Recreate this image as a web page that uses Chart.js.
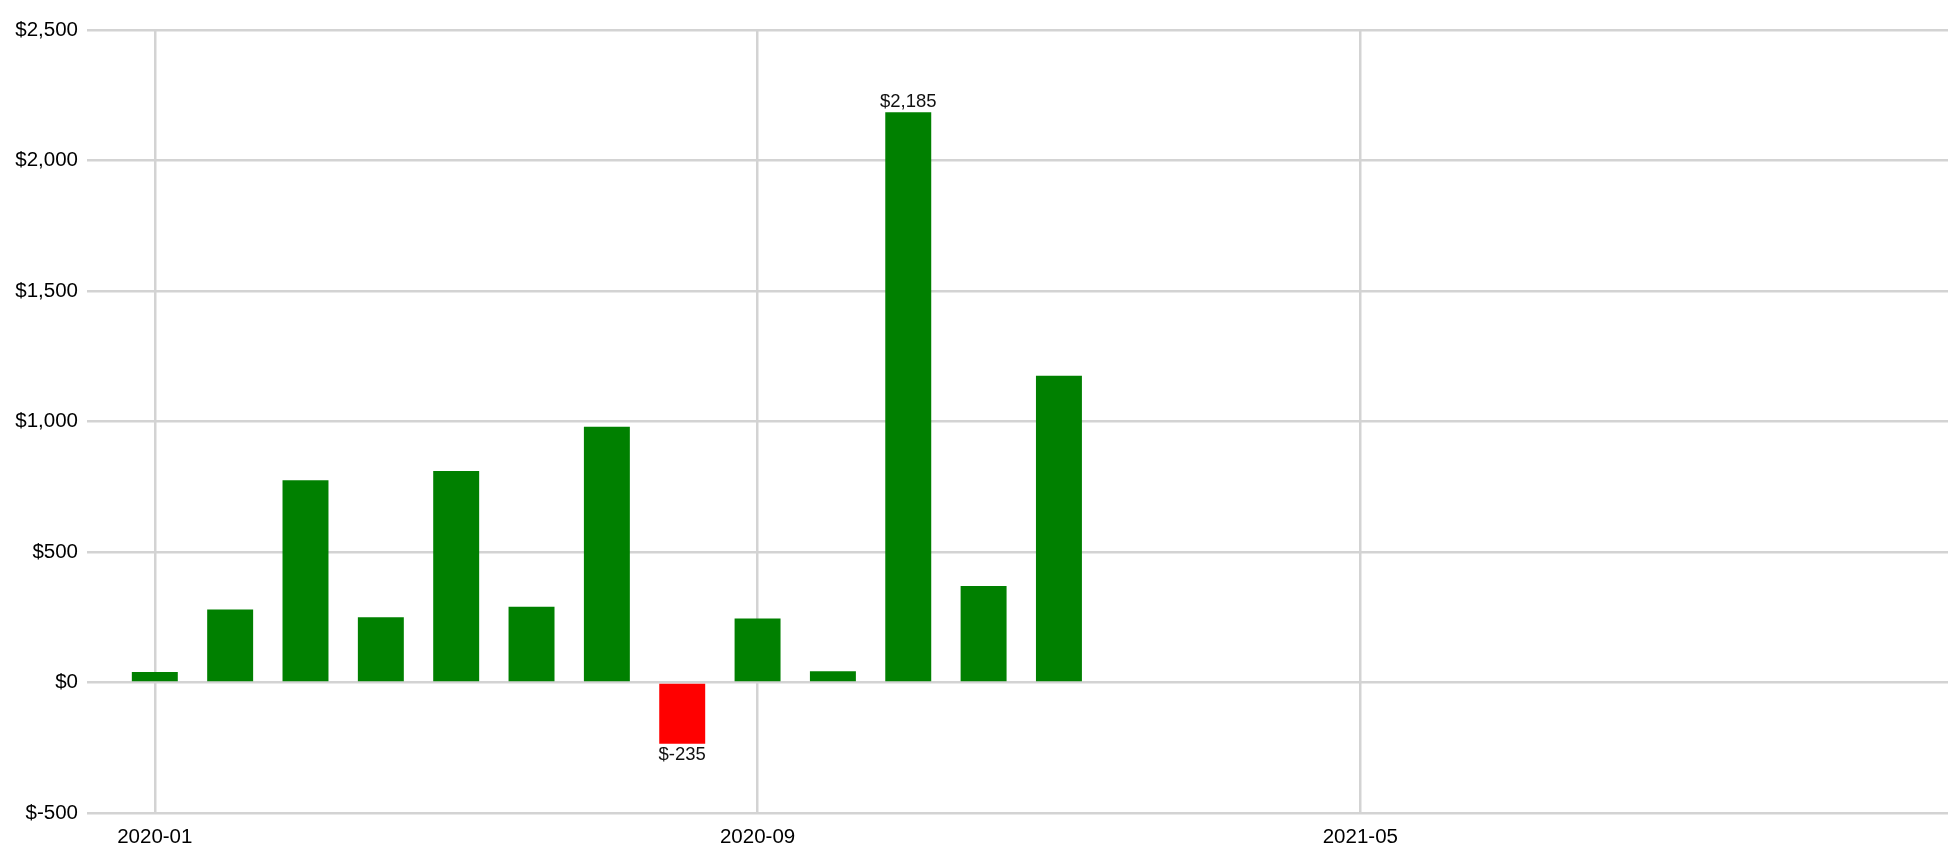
<!DOCTYPE html>
<html>
<head>
<meta charset="utf-8">
<script src="https://cdn.jsdelivr.net/npm/chart.js@4/dist/chart.umd.min.js"></script>
<style>
  html, body { margin: 0; padding: 0; background: #ffffff; }
  #wrap { width: 1954px; height: 857px; }
</style>
</head>
<body>
<div id="wrap"><canvas id="c" width="1954" height="857"></canvas></div>
<script>
// Months shown on the time axis (the axis runs past the last bar)
const axisMonths = [
  '2020-01','2020-02','2020-03','2020-04','2020-05','2020-06',
  '2020-07','2020-08','2020-09','2020-10','2020-11','2020-12',
  '2021-01','2021-02','2021-03','2021-04','2021-05','2021-06',
  '2021-07','2021-08','2021-09','2021-10','2021-11','2021-12'
];
// Months that have a bar
const months = [
  '2020-01','2020-02','2020-03','2020-04','2020-05','2020-06',
  '2020-07','2020-08','2020-09','2020-10','2020-11','2020-12','2021-01'
];
// Monthly profit / loss in dollars
const values = [40, 280, 775, 250, 810, 290, 980, -235, 245, 43, 2185, 370, 1175];
// Y-axis tick values
const yTicks = [-500, 0, 500, 1000, 1500, 2000, 2500];

const fmt = v => '$' + Number(v).toLocaleString('en-US');
const FONT = '"Liberation Sans", Arial, Helvetica, sans-serif';

const points = months.map((m, i) => ({ x: axisMonths.indexOf(m), y: values[i] }));

const extremeLabels = {
  id: 'extremeLabels',
  afterDatasetsDraw(chart) {
    const ctx = chart.ctx;
    const meta = chart.getDatasetMeta(0);
    const maxV = Math.max(...values);
    const minV = Math.min(...values);
    ctx.save();
    ctx.font = '18.5px ' + FONT;
    ctx.fillStyle = '#111111';
    ctx.textAlign = 'center';
    values.forEach((v, i) => {
      if (v !== maxV && v !== minV) return;
      const el = meta.data[i];
      if (v >= 0) {
        ctx.textBaseline = 'alphabetic';
        ctx.fillText(fmt(v), el.x, el.y - 5);
      } else {
        ctx.textBaseline = 'top';
        ctx.fillText(fmt(v), el.x, el.y + 2);
      }
    });
    ctx.restore();
  }
};

new Chart(document.getElementById('c'), {
  type: 'bar',
  data: {
    datasets: [{
      data: points,
      backgroundColor: values.map(v => v < 0 ? '#ff0000' : '#008000'),
      borderWidth: 0,
      categoryPercentage: 1,
      barPercentage: 0.61
    }]
  },
  options: {
    responsive: false,
    devicePixelRatio: 1,
    animation: false,
    layout: { padding: { left: 0, right: 6, top: 30, bottom: 0 } },
    plugins: { legend: { display: false }, tooltip: { enabled: false } },
    scales: {
      x: {
        type: 'linear',
        offset: false,
        min: -0.9,
        max: 23.8,
        grid: { color: '#d3d3d3', lineWidth: 2.5, drawTicks: false, offset: false },
        border: { display: false },
        afterFit: s => { s.height = 44; },
        ticks: {
          stepSize: 8,
          includeBounds: false,
          autoSkip: false,
          maxRotation: 0,
          padding: 12,
          color: '#000',
          font: { family: FONT, size: 20.5 },
          callback: v => axisMonths[v] !== undefined ? axisMonths[v] : ''
        }
      },
      y: {
        type: 'linear',
        min: yTicks[0],
        max: yTicks[yTicks.length - 1],
        grid: { color: '#d3d3d3', lineWidth: 2.5, drawTicks: false },
        border: { display: false },
        afterFit: s => { s.width = 87; },
        afterBuildTicks: s => { s.ticks = yTicks.map(v => ({ value: v })); },
        ticks: {
          padding: 9,
          color: '#000',
          font: { family: FONT, size: 20.5 },
          callback: v => fmt(v)
        }
      }
    }
  },
  plugins: [extremeLabels]
});
</script>
</body>
</html>
